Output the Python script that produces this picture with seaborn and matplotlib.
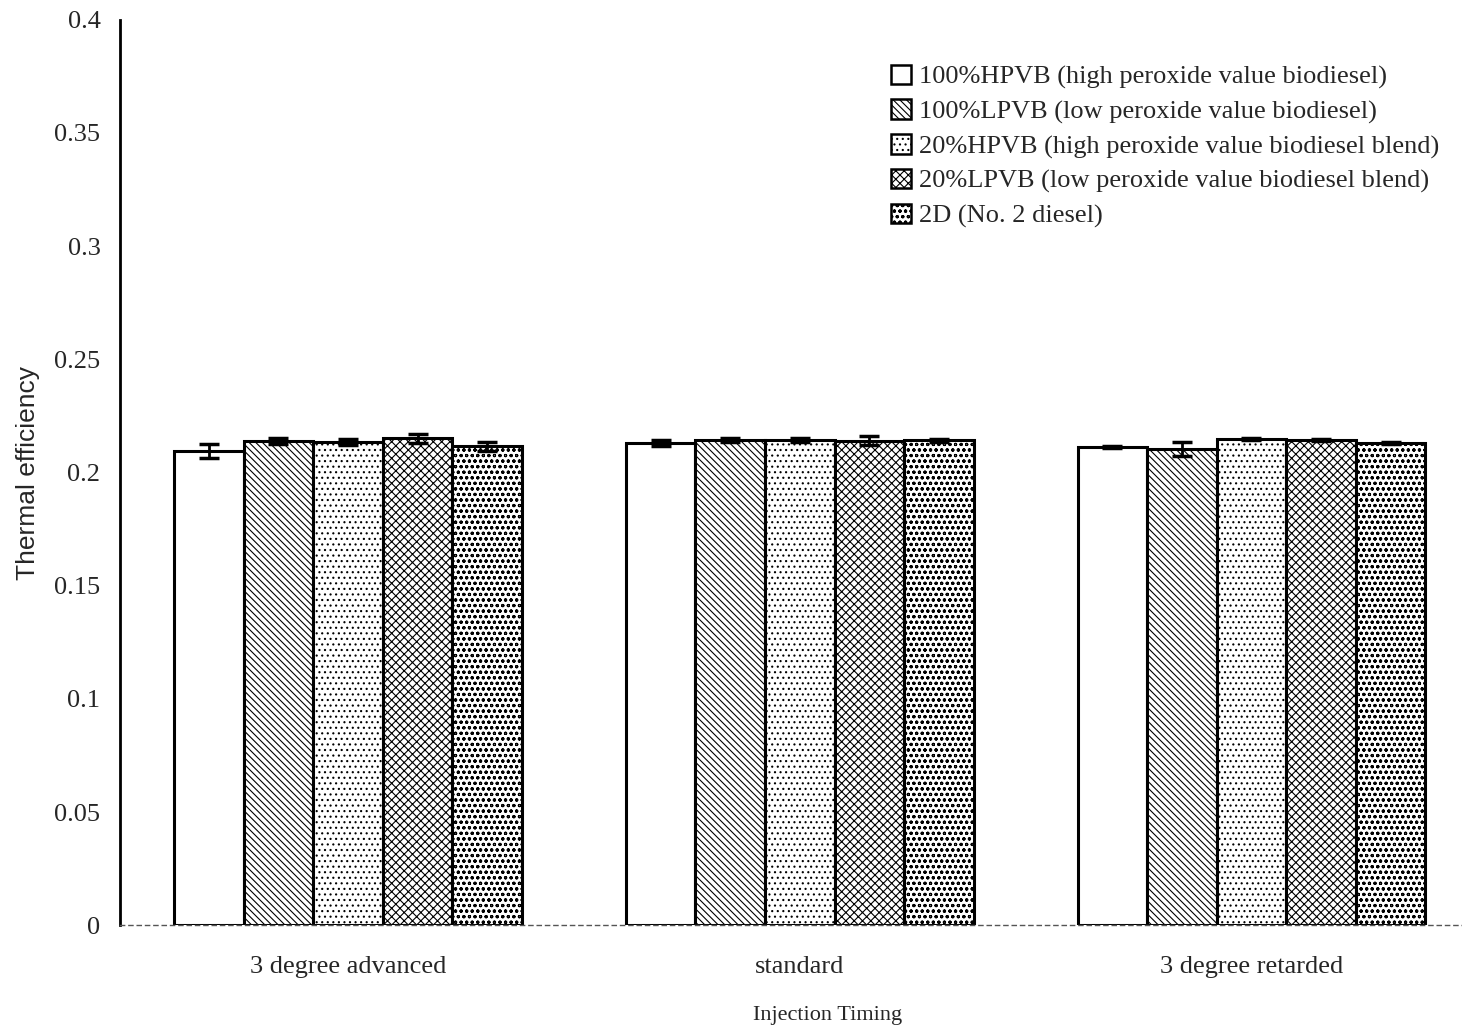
import matplotlib
matplotlib.use("Agg")
import matplotlib.pyplot as plt
from matplotlib.patches import Patch
import numpy as np
import pandas as pd
import seaborn as sns

timings = ["3 degree advanced", "standard", "3 degree retarded"]
fuels = [
    "100%HPVB (high peroxide value biodiesel)",
    "100%LPVB (low peroxide value biodiesel)",
    "20%HPVB (high peroxide value biodiesel blend)",
    "20%LPVB (low peroxide value biodiesel blend)",
    "2D (No. 2 diesel)",
]
# thermal efficiency per fuel, one value per injection timing
hpvb100 = [0.2095, 0.2130, 0.2113]
lpvb100 = [0.2139, 0.2144, 0.2104]
hpvb20 = [0.2135, 0.2144, 0.2148]
lpvb20 = [0.2152, 0.2140, 0.2144]
diesel2 = [0.2117, 0.2142, 0.2130]
# standard errors
hpvb100_err = [0.0033, 0.0015, 0.0003]
lpvb100_err = [0.0015, 0.0010, 0.0030]
hpvb20_err = [0.0015, 0.0008, 0.0005]
lpvb20_err = [0.0020, 0.0020, 0.0003]
diesel2_err = [0.0020, 0.0005, 0.0005]

series = [hpvb100, lpvb100, hpvb20, lpvb20, diesel2]
errors = [hpvb100_err, lpvb100_err, hpvb20_err, lpvb20_err, diesel2_err]
hatches = ["", "\\\\\\\\\\", "...", "xxxx", "ooo"]

df = pd.DataFrame(
    [(t, f, v[i], e[i]) for f, v, e in zip(fuels, series, errors)
     for i, t in enumerate(timings)],
    columns=["timing", "fuel", "eff", "err"],
)

sns.set_style("white")
plt.rcParams["font.family"] = ["Liberation Serif", "DejaVu Serif"]
plt.rcParams["hatch.linewidth"] = 0.8

fig = plt.figure(figsize=(14.62, 10.34), dpi=100)
ax = fig.add_axes([0.082, 0.105, 0.918, 0.876])

sns.barplot(
    data=df, x="timing", y="eff", hue="fuel", order=timings, hue_order=fuels,
    palette=["white"] * 5, edgecolor="black", linewidth=2.2, width=0.77,
    errorbar=None, legend=False, ax=ax,
)

for k, fuel in enumerate(fuels):
    cont = ax.containers[k]
    sub = df[df.fuel == fuel].set_index("timing").loc[timings]
    xs = [p.get_x() + p.get_width() / 2 for p in cont.patches]
    for p in cont.patches:
        p.set_hatch(hatches[k])
    ax.errorbar(xs, sub["eff"], yerr=sub["err"], fmt="none", ecolor="black",
                elinewidth=2, capsize=7, capthick=2.5)

ax.set_ylim(0, 0.4)
ax.set_xlim(-0.505, 2.466)
ax.set_yticks(np.arange(0, 0.401, 0.05))
ax.set_yticklabels(["0", "0.05", "0.1", "0.15", "0.2", "0.25", "0.3", "0.35", "0.4"])
ax.tick_params(axis="both", length=0, labelsize=19)
ax.tick_params(axis="y", pad=14)
ax.tick_params(axis="x", pad=22)

for s in ["top", "right"]:
    ax.spines[s].set_visible(False)
ax.spines["left"].set_linewidth(2)
ax.spines["left"].set_color("black")
ax.spines["bottom"].set_linewidth(1)
ax.spines["bottom"].set_color("#555555")
ax.spines["bottom"].set_linestyle((0, (3, 3)))

ax.set_xlabel("Injection Timing", fontsize=16)
ax.xaxis.set_label_coords(0.527, -0.089)
ax.set_ylabel("Thermal efficiency", fontsize=19, labelpad=10,
              family=["Liberation Sans Narrow", "Liberation Sans", "DejaVu Sans"])

handles = [Patch(facecolor="white", edgecolor="black", linewidth=1.8, hatch=h)
           for h in hatches]
ax.legend(handles, fuels, loc="upper left", bbox_to_anchor=(0.567, 0.962),
          frameon=False, fontsize=19, handlelength=0.75, handleheight=0.75,
          handletextpad=0.3, labelspacing=0.4, borderaxespad=0)

fig.savefig("out.png", dpi=100)
